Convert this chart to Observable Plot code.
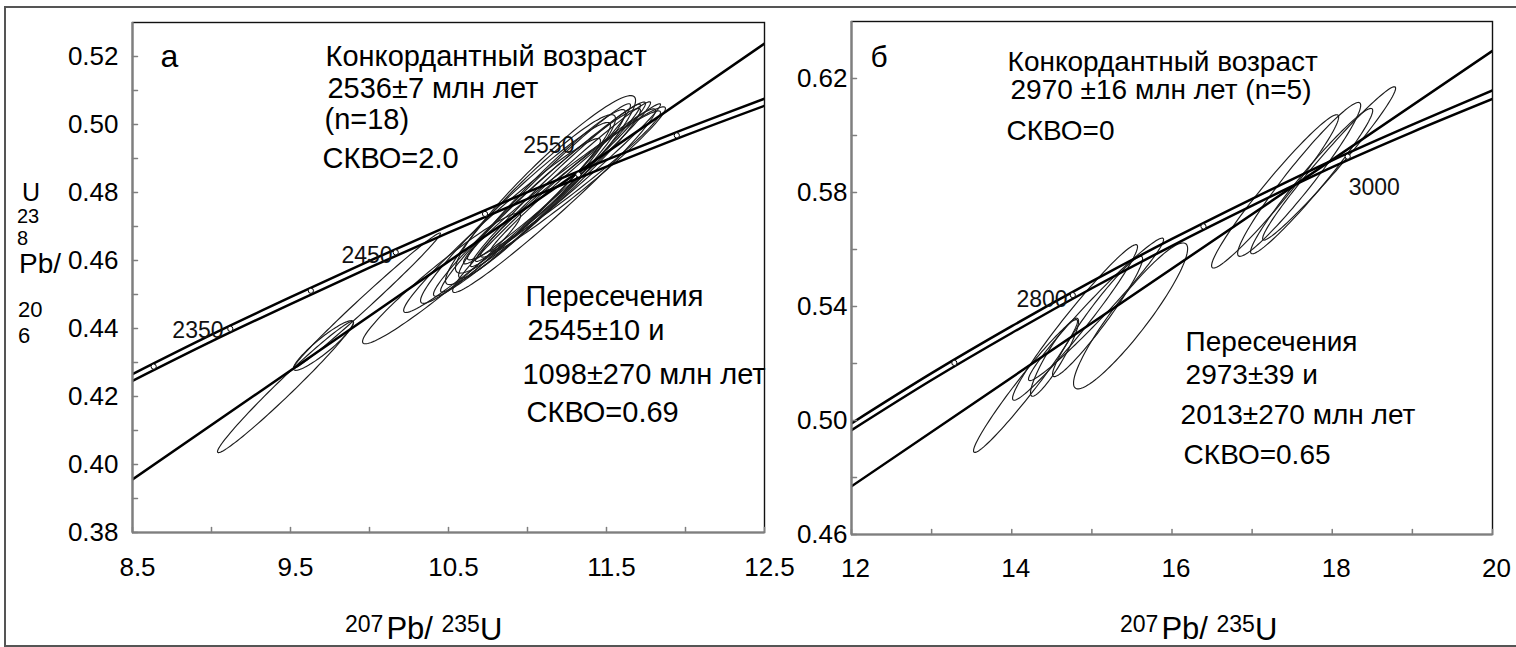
<!DOCTYPE html>
<html>
<head>
<meta charset="utf-8">
<script src="https://cdn.jsdelivr.net/npm/d3@7"></script>
<script src="https://cdn.jsdelivr.net/npm/@observablehq/plot@0.6"></script>
<style>
  body { margin: 0; background: #fff; }
  #wrap { position: relative; width: 1516px; height: 647px; overflow: hidden; background: #fff;
          font-family: "Liberation Sans", Arial, sans-serif; }
  #border { position: absolute; left: 4px; top: 6px; width: 1560px; height: 637px; border: 2px solid #555; }
  .panel { position: absolute; top: 0; }
</style>
</head>
<body>
<div id="wrap"><div id="border"></div></div>
<script>
// ================= DATA =================
// ---- Panel а ----
const aXDomain = [8.5, 12.5];
const aYDomain = [0.38, 0.53];
const aXTicks = [8.5, 9.0, 9.5, 10.0, 10.5, 11.0, 11.5, 12.0, 12.5];
const aXTickLabels = [8.5, 9.5, 10.5, 11.5, 12.5];
const aYTicks = [0.38, 0.39, 0.40, 0.41, 0.42, 0.43, 0.44, 0.45, 0.46, 0.47, 0.48, 0.49, 0.50, 0.51, 0.52];
const aYTickLabels = [0.38, 0.40, 0.42, 0.44, 0.46, 0.48, 0.50, 0.52];

// concordia band (two edges)
const aConcX     = [8.5, 9.0, 9.5, 10.0, 10.5, 11.0, 11.5, 12.0, 12.5];
const aConcUpper = [0.4266, 0.4382, 0.4492, 0.4599, 0.4702, 0.4801, 0.4896, 0.4988, 0.5076];
const aConcLower = [0.4246, 0.4362, 0.4472, 0.4579, 0.4682, 0.4781, 0.4876, 0.4968, 0.5055];
// discordia
const aDiscX = [8.5, 12.5];
const aDiscY = [0.3956, 0.5238];
// age markers on concordia
const aMarkAge = [2300, 2350, 2400, 2450, 2500, 2550, 2600];
const aMarkX = [8.634, 9.119, 9.629, 10.166, 10.731, 11.322, 11.945];
const aMarkY = [0.4288, 0.4399, 0.4511, 0.4624, 0.4737, 0.4853, 0.4968];
// age labels
const aAgeText = ["2350", "2450", "2550"];
const aAgeX = [9.076, 10.146, 11.297];
const aAgeY = [0.4371, 0.4594, 0.4915];
const aAgeAnchor = ["end", "end", "end"];
// error ellipses: centre, half-extent in x and y, correlation
const aCx  = [9.468, 9.709, 9.984, 10.456, 10.839, 11.060, 11.051, 11.168, 11.171, 11.231, 11.177, 11.092, 11.225, 11.019, 11.288, 10.924, 11.114, 11.304];
const aCy  = [0.4228, 0.4350, 0.4482, 0.4547, 0.4703, 0.4771, 0.4784, 0.4776, 0.4828, 0.4821, 0.4821, 0.4796, 0.4832, 0.4779, 0.4831, 0.4740, 0.4824, 0.4844];
const aSx  = [0.430, 0.190, 0.465, 0.500, 0.623, 0.655, 0.601, 0.642, 0.576, 0.611, 0.538, 0.528, 0.554, 0.538, 0.585, 0.601, 0.570, 0.538];
const aSy  = [0.0193, 0.0073, 0.0199, 0.0192, 0.0256, 0.0276, 0.0277, 0.0270, 0.0238, 0.0219, 0.0239, 0.0248, 0.0235, 0.0250, 0.0221, 0.0266, 0.0261, 0.0217];
const aRho = [0.985, 0.924, 0.993, 0.965, 0.976, 0.979, 0.983, 0.981, 0.983, 0.979, 0.985, 0.966, 0.988, 0.952, 0.978, 0.969, 0.946, 0.990];
// annotation text
const aLetter = "а";
const aLetterX = 8.677, aLetterY = 0.5168;
const aNoteText = ["Конкордантный возраст", "2536±7 млн лет", "(n=18)", "СКВО=2.0",
                   "Пересечения", "2545±10 и", "1098±270 млн лет", "СКВО=0.69"];
const aNoteX = [9.722, 9.734, 9.715, 9.703, 10.987, 11.000, 10.968, 10.994];
const aNoteY = [0.5171, 0.5079, 0.4988, 0.4871, 0.4465, 0.4365, 0.4238, 0.4124];

// ---- Panel б ----
const bXDomain = [12, 20];
const bYDomain = [0.46, 0.64];
const bXTicks = [12, 13, 14, 15, 16, 17, 18, 19, 20];
const bXTickLabels = [12, 14, 16, 18, 20];
const bYTicks = [0.46, 0.48, 0.50, 0.52, 0.54, 0.56, 0.58, 0.60, 0.62];
const bYTickLabels = [0.46, 0.50, 0.54, 0.58, 0.62];

const bConcX     = [12, 13, 14, 15, 16, 17, 18, 19, 20];
const bConcUpper = [0.4990, 0.5166, 0.5331, 0.5488, 0.5637, 0.5778, 0.5913, 0.6038, 0.6158];
const bConcLower = [0.4966, 0.5142, 0.5307, 0.5464, 0.5613, 0.5754, 0.5889, 0.6012, 0.6128];
const bDiscX = [12, 20];
const bDiscY = [0.4769, 0.6297];
const bMarkAge = [2700, 2800, 2900, 3000];
const bMarkX = [13.284, 14.762, 16.393, 18.193];
const bMarkY = [0.5202, 0.5440, 0.5681, 0.5926];
const bAgeText = ["2800", "3000"];
const bAgeX = [14.697, 18.205];
const bAgeY = [0.5400, 0.5791];
const bAgeAnchor = ["end", "start"];
const bCx  = [14.172, 14.790, 15.052, 15.071, 15.483, 14.534, 17.287, 17.587, 17.743, 17.961];
const bCy  = [0.5121, 0.5344, 0.5390, 0.5365, 0.5367, 0.5222, 0.5804, 0.5846, 0.5840, 0.5902];
const bSx  = [0.649, 0.780, 0.843, 0.562, 0.712, 0.300, 0.793, 0.768, 0.762, 0.830];
const bSy  = [0.0233, 0.0273, 0.0250, 0.0211, 0.0256, 0.0137, 0.0269, 0.0270, 0.0255, 0.0269];
const bRho = [0.975, 0.974, 0.979, 0.960, 0.921, 0.916, 0.969, 0.962, 0.971, 0.980];
const bLetter = "б";
const bLetterX = 12.237, bLetterY = 0.6239;
const bNoteText = ["Конкордантный возраст", "2970 ±16 млн лет (n=5)", "СКВО=0",
                   "Пересечения", "2973±39 и", "2013±270 млн лет", "СКВО=0.65"];
const bNoteX = [13.948, 13.985, 13.935, 16.170, 16.170, 16.107, 16.145];
const bNoteY = [0.6228, 0.6127, 0.5984, 0.5243, 0.5128, 0.4988, 0.4848];

// ================= BUILD =================
const FONT = '"Liberation Sans", Arial, sans-serif';

function ellipsePoints(cx, cy, sx, sy, rho) {
  const pts = [];
  cx.forEach((c, i) => {
    const k = Math.sqrt(1 - rho[i] * rho[i]);
    for (let j = 0; j <= 120; j++) {
      const t = (j / 120) * 2 * Math.PI;
      pts.push({id: i, x: c + sx[i] * Math.cos(t), y: cy[i] + sy[i] * (rho[i] * Math.cos(t) + k * Math.sin(t))});
    }
  });
  return pts;
}
const zip = (xs, ys, extra = {}) => xs.map((x, i) => ({x, y: ys[i], ...Object.fromEntries(Object.entries(extra).map(([k, v]) => [k, v[i]]))}));
const tickShape = {draw(context, l) { context.moveTo(0, 0); context.lineTo(0, -l); }};

function panel(cfg) {
  const [x0] = cfg.xDomain, [y0] = cfg.yDomain;
  const ages = zip(cfg.ageX, cfg.ageY, {t: cfg.ageText, a: cfg.ageAnchor});
  return Plot.plot({
    width: cfg.width, height: 647,
    marginLeft: cfg.ml, marginRight: cfg.mr, marginTop: cfg.mt, marginBottom: cfg.mb,
    x: {domain: cfg.xDomain},
    y: {domain: cfg.yDomain},
    style: {fontFamily: FONT, fontSize: "26px", color: "#000", background: "transparent", overflow: "visible"},
    marks: [
      Plot.line(ellipsePoints(cfg.cx, cfg.cy, cfg.sx, cfg.sy, cfg.rho), {x: "x", y: "y", z: "id", stroke: "#1c1c1c", strokeWidth: 1.15, clip: true}),
      Plot.line(zip(cfg.concX, cfg.concUpper), {x: "x", y: "y", stroke: "#000", strokeWidth: 2.5, curve: "catmull-rom", clip: true}),
      Plot.line(zip(cfg.concX, cfg.concLower), {x: "x", y: "y", stroke: "#000", strokeWidth: 2.5, curve: "catmull-rom", clip: true}),
      Plot.line(zip(cfg.discX, cfg.discY), {x: "x", y: "y", stroke: "#000", strokeWidth: 2.5, clip: true}),
      Plot.dot(zip(cfg.markX, cfg.markY), {x: "x", y: "y", r: 2.6, fill: "#fff", stroke: "#000", strokeWidth: 1}),
      ...["start", "end"].map(anchor => Plot.text(ages.filter(d => d.a === anchor), {
        x: "x", y: "y", text: "t", textAnchor: anchor, lineAnchor: "bottom", fontSize: 23, fill: "#111"})),
      Plot.text([cfg.letter], {x: cfg.letterX, y: cfg.letterY, text: d => d, textAnchor: "start", lineAnchor: "bottom", fontSize: cfg.letterSize}),
      Plot.text(zip(cfg.noteX, cfg.noteY, {t: cfg.noteText}), {x: "x", y: "y", text: "t", textAnchor: "start", lineAnchor: "bottom", fontSize: cfg.noteSize}),
      Plot.frame({stroke: "#111", strokeWidth: 1.4}),
      Plot.ruleX([x0], {stroke: "#7f7f7f", strokeWidth: 2.2}),
      Plot.ruleY([y0], {stroke: "#7f7f7f", strokeWidth: 2.2}),
      Plot.vector(cfg.xTicks, {x: d => d, y: y0, length: 5, rotate: 0, anchor: "start", shape: tickShape, stroke: "#7f7f7f", strokeWidth: 1.5}),
      Plot.vector(cfg.yTicks, {x: x0, y: d => d, length: 5, rotate: 90, anchor: "start", shape: tickShape, stroke: "#7f7f7f", strokeWidth: 1.5}),
      Plot.axisX({ticks: cfg.xTickLabels, tickSize: 0, tickPadding: cfg.xPad, dx: cfg.xDx, fontSize: 26, tickFormat: cfg.xFmt, label: null}),
      Plot.axisY({ticks: cfg.yTickLabels, tickSize: 0, tickPadding: cfg.yPad, fontSize: 26, tickFormat: d => d.toFixed(2), label: null})
    ]
  });
}

const left = panel({
  width: 780, ml: 132, mr: 16, mt: 22, mb: 115,
  xDomain: aXDomain, yDomain: aYDomain,
  cx: aCx, cy: aCy, sx: aSx, sy: aSy, rho: aRho,
  concX: aConcX, concUpper: aConcUpper, concLower: aConcLower,
  discX: aDiscX, discY: aDiscY,
  markX: aMarkX, markY: aMarkY,
  ageText: aAgeText, ageX: aAgeX, ageY: aAgeY, ageAnchor: aAgeAnchor,
  letter: aLetter, letterX: aLetterX, letterY: aLetterY, letterSize: 32,
  noteText: aNoteText, noteX: aNoteX, noteY: aNoteY, noteSize: 29,
  xTicks: aXTicks, yTicks: aYTicks, xTickLabels: aXTickLabels, yTickLabels: aYTickLabels,
  xPad: 25, xDx: 5, yPad: 14, xFmt: d => d.toFixed(1)
});
const right = panel({
  width: 746, ml: 81, mr: 24, mt: 21, mb: 113,
  xDomain: bXDomain, yDomain: bYDomain,
  cx: bCx, cy: bCy, sx: bSx, sy: bSy, rho: bRho,
  concX: bConcX, concUpper: bConcUpper, concLower: bConcLower,
  discX: bDiscX, discY: bDiscY,
  markX: bMarkX, markY: bMarkY,
  ageText: bAgeText, ageX: bAgeX, ageY: bAgeY, ageAnchor: bAgeAnchor,
  letter: bLetter, letterX: bLetterX, letterY: bLetterY, letterSize: 30,
  noteText: bNoteText, noteX: bNoteX, noteY: bNoteY, noteSize: 28,
  xTicks: bXTicks, yTicks: bYTicks, xTickLabels: bXTickLabels, yTickLabels: bYTickLabels,
  xPad: 24, xDx: 4, yPad: 4, xFmt: d => String(d)
});

const wrap = document.getElementById("wrap");
left.classList.add("panel"); left.style.left = "0px";
right.classList.add("panel"); right.style.left = "770px";
wrap.appendChild(left);
wrap.appendChild(right);

// ---- axis titles (text overlay) ----
const ov = d3.select(wrap).append("svg")
  .attr("width", 1516).attr("height", 647)
  .style("position", "absolute").style("left", 0).style("top", 0)
  .style("pointer-events", "none")
  .style("font-family", FONT).style("white-space", "pre");

function xTitle(x0) {
  const t = ov.append("text").attr("x", x0).attr("y", 639).attr("font-size", 31).attr("fill", "#000");
  t.append("tspan").attr("font-size", 23).attr("dy", -7).text("207");
  t.append("tspan").attr("dy", 7).attr("dx", 3).text("Pb/ ");
  t.append("tspan").attr("font-size", 23).attr("dy", -7).text("235");
  t.append("tspan").attr("dy", 8).text("U");
}
xTitle(345);
xTitle(1120);

// broken, wrapped y-axis title of panel а
const yTitleParts = [
  {t: "U",   x: 22, y: 201, s: 25},
  {t: "23",  x: 17, y: 223, s: 20},
  {t: "8",   x: 17, y: 245, s: 20},
  {t: "Pb/", x: 19, y: 273, s: 28},
  {t: "20",  x: 18, y: 317, s: 22},
  {t: "6",   x: 18, y: 343, s: 22}
];
yTitleParts.forEach(p => ov.append("text").attr("x", p.x).attr("y", p.y).attr("font-size", p.s).attr("fill", "#000").text(p.t));
</script>
</body>
</html>
